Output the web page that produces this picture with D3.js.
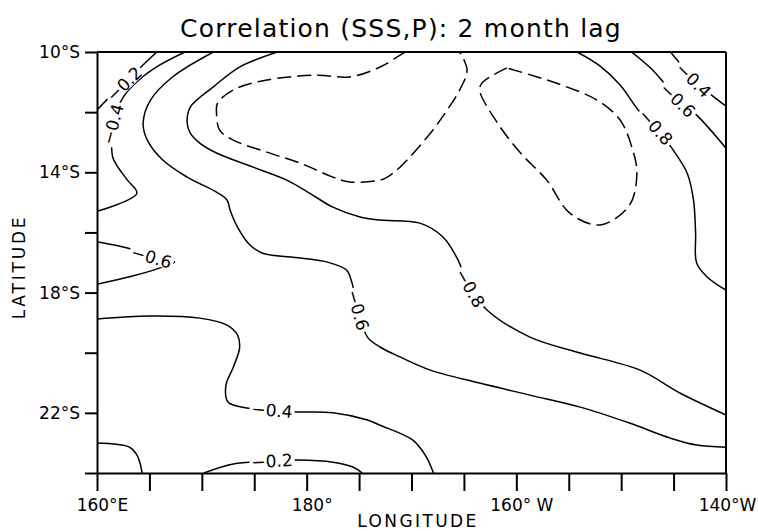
<!DOCTYPE html>
<meta charset="utf-8">
<style>
body { margin: 0; background: #fff; }
svg text { font-family: "DejaVu Sans", sans-serif; fill: #000; }
.contour { fill: none; stroke: #000; stroke-width: 1.5; stroke-linejoin: round; }
.contour.dashed { stroke-dasharray: 14,6; }
.axis path, .axis line { stroke: #000; stroke-width: 2; }
</style>
<svg width="758" height="531"></svg>
<script src="https://d3js.org/d3.v7.min.js"></script>
<script>

// contour lines: [longitude (deg E, 160..220), latitude (deg S)]
var c02top = [[165.7,10.0],[164.1,10.53],[162.6,11.06],[161.2,11.5],[160.0,11.93]];
var c04top = [[168.4,10.0],[166.0,10.43],[164.0,10.93],[162.5,11.5],[161.5,12.4],[161.4,12.93],
              [161.5,13.5],[162.0,13.83],[162.9,14.26],[163.8,14.7],[160.1,15.29]];
var c06long = [[171.1,10.0],[167.2,10.83],[165.1,11.6],[164.4,12.36],[164.8,12.93],[166.3,13.6],
               [168.6,14.16],[171.4,14.66],[172.4,14.92],[172.7,15.26],[173.4,15.82],[174.6,16.42],
               [175.8,16.69],[179.4,16.85],[181.9,16.98],[183.8,17.25],[184.3,17.65],[184.9,18.58],
               [185.8,19.48],[187.0,19.81],[188.9,20.14],[191.8,20.58],[196.5,21.01],[201.3,21.41],
               [206.1,21.81],[210.8,22.34],[214.7,22.84],[217.2,23.07],[220.0,23.14]];
var c08long = [[177.2,10.0],[173.6,10.5],[171.1,11.16],[168.9,11.83],[168.6,12.36],[168.9,12.7],
               [169.8,13.03],[171.4,13.36],[174.9,13.83],[178.1,14.26],[180.3,14.7],[182.5,15.16],
               [185.1,15.49],[187.0,15.59],[190.8,15.69],[193.0,16.15],[194.3,16.82],[195.6,17.85],
               [197.2,18.58],[201.3,19.48],[206.1,20.01],[211.8,20.58],[215.6,21.34],[220.0,22.07]];
var c08east = [[205.8,10.0],[208.0,10.47],[209.9,11.1],[211.8,12.0],[213.3,12.5],[214.9,13.23],
               [216.3,14.03],[216.9,14.92],[217.1,16.02],[217.2,17.02],[218.2,17.48],[220.0,17.92]];
var c06east = [[211.0,10.0],[213.0,10.6],[214.0,11.0],[215.4,11.6],[217.2,12.1],[220.0,13.2]];
var c04east = [[214.7,10.0],[215.9,10.5],[216.9,10.93],[218.5,11.4],[220.0,11.8]];
var c06west = [[160.1,16.32],[162.9,16.52],[165.2,16.82],[167.4,16.98],[166.0,17.18],[163.4,17.45],[160.0,17.72]];
var c04south = [[160.0,18.88],[165.1,18.78],[169.8,18.85],[172.4,19.08],[173.4,19.41],[173.6,19.84],
                [173.0,20.48],[172.3,21.08],[172.5,21.64],[173.9,21.81],[176.7,21.91],[179.1,21.97],
                [182.5,22.0],[185.8,22.24],[187.0,22.41],[190.1,22.9],[191.3,23.4],[192.1,24.0]];
var c02south = [[170.2,24.0],[173.0,23.7],[176.7,23.6],[179.1,23.57],[182.5,23.64],[184.4,23.8],[185.3,24.0]];
var c02corner = [[160.0,23.0],[163.1,23.14],[163.8,23.4],[164.1,23.67],[164.3,24.0]];

// dashed (strongest, unlabelled) contours
var dashNorth = [[189.4,10.0],[188.6,10.17],[187.0,10.5],[184.1,10.83],[181.0,10.77],[176.2,10.93],
                 [173.0,11.26],[171.5,11.7],[171.4,12.03],[171.7,12.6],[173.0,12.93],[176.2,13.33],
                 [179.4,13.7],[182.5,14.16],[184.1,14.32],[187.0,14.26],[187.7,14.16],[188.9,13.83],
                 [191.8,12.7],[193.4,11.93],[194.6,11.26],[195.3,10.6],[194.6,10.0]];
var dashEast = [[199.1,10.53],[196.8,11.0],[196.5,11.26],[198.2,12.36],[200.4,13.36],[202.9,14.26],
                [205.1,15.36],[208.0,15.75],[210.8,15.09],[211.5,14.03],[211.1,13.26],[209.9,12.26],
                [207.7,11.6],[204.8,11.16],[202.0,10.83],[199.1,10.53]];

// level text and the index of the point where it sits
var solidContours = [
  {pts: c02top,   level: "\u22120.2", at: 2},
  {pts: c04top,   level: "\u22120.4", at: 4},
  {pts: c06long,  level: "\u22120.6", at: 17},
  {pts: c08long,  level: "\u22120.8", at: 17},
  {pts: c08east,  level: "\u22120.8", at: 4},
  {pts: c06east,  level: "\u22120.6", at: 3},
  {pts: c04east,  level: "\u22120.4", at: 2},
  {pts: c06west,  level: "\u22120.6", at: 2},
  {pts: c04south, level: "\u22120.4", at: 10},
  {pts: c02south, level: "\u22120.2", at: 2},
  {pts: c02corner, level: null, at: -1}
];
var dashedContours = [dashNorth, dashEast];

var latTicks = [10, 12, 14, 16, 18, 20, 22, 24];
var lonTicks = [160, 165, 170, 175, 180, 185, 190, 195, 200, 205, 210, 215, 220];
var lonLabels = {160: "160\u00b0E", 180: "180\u00b0", 200: "160\u00b0 W", 220: "140\u00b0W"};

var svg = d3.select("svg");
var x = d3.scaleLinear().domain([160, 220]).range([97, 726]);
var y = d3.scaleLinear().domain([10, 24]).range([52, 473]);

svg.append("defs").append("clipPath").attr("id", "plot")
  .append("rect").attr("x", x(160)).attr("y", y(10))
  .attr("width", x(220) - x(160)).attr("height", y(24) - y(10));

// frame
svg.append("line").attr("x1", x(160)).attr("x2", x(220)).attr("y1", y(10)).attr("y2", y(10))
  .attr("stroke", "#000").attr("stroke-width", 2);
svg.append("line").attr("x1", x(220)).attr("x2", x(220)).attr("y1", y(10)).attr("y2", y(24))
  .attr("stroke", "#000").attr("stroke-width", 2);

var yAxis = svg.append("g").attr("class", "axis")
  .attr("transform", "translate(" + x(160) + ",0)")
  .call(d3.axisLeft(y).tickValues(latTicks).tickSize(12).tickSizeOuter(0).tickPadding(5)
    .tickFormat(function(d) { return d % 4 === 2 ? d + "\u00b0S" : ""; }));
var xAxis = svg.append("g").attr("class", "axis")
  .attr("transform", "translate(0," + y(24) + ")")
  .call(d3.axisBottom(x).tickValues(lonTicks).tickSize(18).tickSizeOuter(0).tickPadding(8)
    .tickFormat(function(d) { return lonLabels[d] || ""; }));
svg.selectAll(".axis").attr("font-size", 17).attr("font-family", null);
xAxis.selectAll("text").attr("dx", function(d) { return d === 220 ? 1 : 5; });

var line = d3.line()
  .x(function(d) { return x(d[0]); })
  .y(function(d) { return y(d[1]); })
  .curve(d3.curveCatmullRom.alpha(0.5));

var plot = svg.append("g").attr("clip-path", "url(#plot)");

plot.selectAll(".dashed").data(dashedContours).enter().append("path")
  .attr("class", "contour dashed").attr("d", line);

plot.selectAll(".solid").data(solidContours).enter().append("path")
  .attr("class", "contour solid").attr("d", function(d) { return line(d.pts); });

// contour labels, turned along the line, with the line masked underneath
solidContours.filter(function(c) { return c.level; }).forEach(function(c) {
  var p = c.pts[c.at], a = c.pts[c.at - 1], b = c.pts[c.at + 1];
  var ang = Math.atan2(y(b[1]) - y(a[1]), x(b[0]) - x(a[0])) * 180 / Math.PI;
  if (ang > 90) ang -= 180;
  if (ang < -90) ang += 180;
  var g = svg.append("g")
    .attr("transform", "translate(" + x(p[0]) + "," + y(p[1]) + ") rotate(" + ang + ")");
  var t = g.append("text").attr("text-anchor", "middle").attr("dy", "0.36em")
    .attr("font-size", 17).text(c.level);
  var w = t.node().getBBox().width + 4;
  g.insert("rect", "text").attr("x", -w / 2).attr("y", -7).attr("width", w).attr("height", 14)
    .attr("fill", "#fff");
});

svg.append("text").attr("x", 401).attr("y", 37).attr("text-anchor", "middle")
  .attr("font-size", 25).attr("letter-spacing", 1.2)
  .text("Correlation (SSS,P): 2 month  lag");

svg.append("text").attr("x", 418).attr("y", 527).attr("text-anchor", "middle")
  .attr("font-size", 17).attr("letter-spacing", 2.4).text("LONGITUDE");

svg.append("text").attr("transform", "translate(25,267) rotate(-90)").attr("text-anchor", "middle")
  .attr("font-size", 17).attr("letter-spacing", 2.8).text("LATITUDE");

</script>
